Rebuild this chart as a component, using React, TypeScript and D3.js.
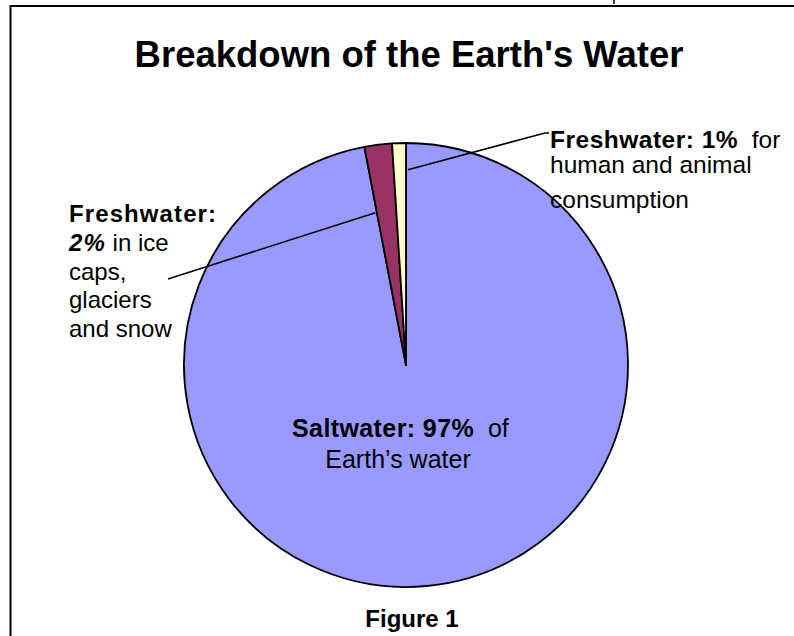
import { useEffect, useRef } from "react";
import * as d3 from "d3";

const categories = ["Saltwater", "Freshwater (ice)", "Freshwater (usable)"];
const shares = [97, 2, 1];
const colors = ["#9999FF", "#993366", "#FFFFCC"];

const titleText = "Breakdown of the Earth's Water";
const captionText = "Figure 1";

const App = () => {
  const svgRef = useRef(null);

  useEffect(() => {
    const svg = d3.select(svgRef.current);
    svg.selectAll("*").remove();

    const width = 794;
    const height = 636;
    const cx = 406;
    const cy = 365;
    const radius = 222;
    const font = "'Liberation Sans', Arial, sans-serif";

    svg.attr("width", width).attr("height", height);

    svg
      .append("rect")
      .attr("width", width)
      .attr("height", height)
      .attr("fill", "#fff");

    // frame (runs off the right and bottom of the picture)
    svg
      .append("rect")
      .attr("x", 10.5)
      .attr("y", 6)
      .attr("width", 800)
      .attr("height", 700)
      .attr("fill", "none")
      .attr("stroke", "#000")
      .attr("stroke-width", 2);

    // cut-off glyph from text above the frame
    svg
      .append("line")
      .attr("x1", 614)
      .attr("x2", 614)
      .attr("y1", 0)
      .attr("y2", 4)
      .attr("stroke", "#000")
      .attr("stroke-width", 1.5);

    svg
      .append("text")
      .attr("x", 409)
      .attr("y", 67)
      .attr("text-anchor", "middle")
      .attr("font-family", font)
      .attr("font-size", 36.5)
      .attr("font-weight", "bold")
      .text(titleText);

    const pie = d3
      .pie<number>()
      .sort(null)
      .value((d) => d)
      .startAngle(0)
      .endAngle(2 * Math.PI);
    const slices = pie(shares);
    const arc = d3.arc<d3.PieArcDatum<number>>().innerRadius(0).outerRadius(radius);

    const g = svg.append("g").attr("transform", `translate(${cx},${cy})`);
    g.selectAll("path")
      .data(slices)
      .enter()
      .append("path")
      .attr("d", arc)
      .attr("fill", (d, i) => colors[i])
      .attr("stroke", "#000")
      .attr("stroke-width", 1.8)
      .attr("stroke-linejoin", "round")
      .append("title")
      .text((d, i) => `${categories[i]}: ${shares[i]}%`);

    const polar = (angle: number, r: number) => [
      cx + r * Math.sin(angle),
      cy - r * Math.cos(angle),
    ];

    // leader lines
    const [ix1, iy1] = polar(slices[2].endAngle + 0.01, radius * 0.88);
    const [ix2, iy2] = polar(slices[1].startAngle - 0.01, radius * 0.7);
    svg
      .append("path")
      .attr("d", `M${ix1},${iy1}L545,133L549,133`)
      .attr("fill", "none")
      .attr("stroke", "#000")
      .attr("stroke-width", 1.6);
    svg
      .append("line")
      .attr("x1", ix2)
      .attr("y1", iy2)
      .attr("x2", 168)
      .attr("y2", 279)
      .attr("stroke", "#000")
      .attr("stroke-width", 1.6);

    const addLines = (
      x: number,
      rows: { y: number; parts: { t: string; b?: boolean; i?: boolean }[] }[],
      size: number,
      anchor = "start",
      boldSpacing = 0
    ) => {
      rows.forEach((row) => {
        const t = svg
          .append("text")
          .attr("x", x)
          .attr("y", row.y)
          .attr("text-anchor", anchor)
          .attr("font-family", font)
          .attr("font-size", size)
          .attr("xml:space", "preserve")
          .style("white-space", "pre");
        row.parts.forEach((p) => {
          t.append("tspan")
            .attr("font-weight", p.b ? "bold" : "normal")
            .attr("font-style", p.i ? "italic" : "normal")
            .attr("letter-spacing", p.b ? boldSpacing : 0)
            .text(p.t);
        });
      });
    };

    addLines(
      550,
      [
        { y: 148, parts: [{ t: "Freshwater: 1%", b: true }, { t: "  for" }] },
        { y: 173, parts: [{ t: "human and animal" }] },
        { y: 208, parts: [{ t: "consumption" }] },
      ],
      24.5,
      "start",
      0.5
    );

    addLines(
      69,
      [
        { y: 222, parts: [{ t: "Freshwater:", b: true }] },
        { y: 251, parts: [{ t: "2%", b: true, i: true }, { t: " in ice" }] },
        { y: 280, parts: [{ t: "caps," }] },
        { y: 308, parts: [{ t: "glaciers" }] },
        { y: 337, parts: [{ t: "and snow" }] },
      ],
      24,
      "start",
      1.1
    );

    addLines(
      292,
      [{ y: 437, parts: [{ t: "Saltwater: 97%", b: true }, { t: "  of" }] }],
      25,
      "start",
      0.4
    );
    addLines(398, [{ y: 468, parts: [{ t: "Earth\u2019s water" }] }], 25, "middle");

    svg
      .append("text")
      .attr("x", 412)
      .attr("y", 627)
      .attr("text-anchor", "middle")
      .attr("font-family", font)
      .attr("font-size", 24)
      .attr("font-weight", "bold")
      .text(captionText);
  }, []);

  return (
    <div style={{ position: "absolute", left: 0, top: 0 }}>
      <svg ref={svgRef} style={{ display: "block" }}></svg>
    </div>
  );
};

export default App;
